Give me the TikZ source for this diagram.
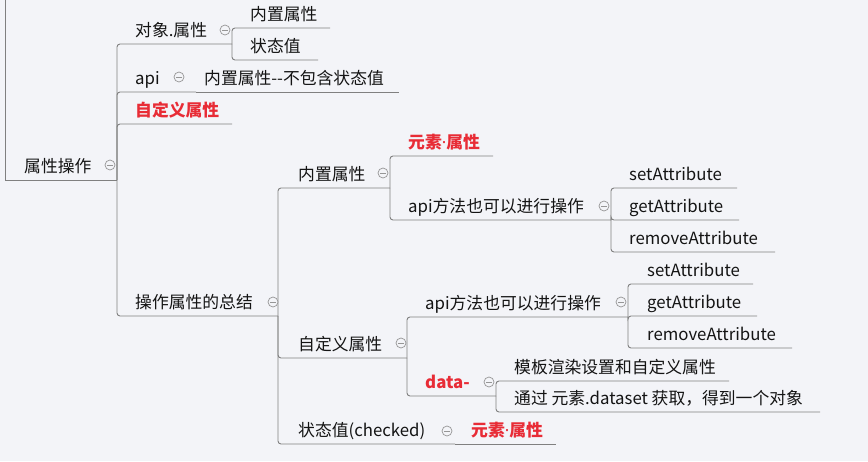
\documentclass[tikz,border=0pt]{standalone}
\usepackage{fontspec}
\setmainfont{Noto Sans CJK SC}
\newfontfamily\latinf{Noto Sans}
\definecolor{bgc}{RGB}{243,244,248}
\definecolor{linec}{RGB}{128,128,128}
\definecolor{redc}{RGB}{232,44,54}
\definecolor{txtc}{RGB}{20,20,20}
\definecolor{iconc}{RGB}{150,150,150}
\newcommand{\mdot}{{\latinf\bfseries ·}}
\tikzset{
  topic/.style={anchor=base west, inner sep=0pt, font=\fontsize{16.8}{19}\selectfont, text=txtc},
  redtopic/.style={topic, font=\fontsize{16.8}{19}\selectfont\bfseries, text=redc},
  conn/.style={draw=linec, line width=0.9pt, rounded corners=3pt},
  collapse/.style={circle, draw=iconc, line width=0.7pt, minimum size=10pt, inner sep=0pt, fill=bgc,
    path picture={\draw[iconc, line width=0.7pt] ([xshift=-2.6pt]path picture bounding box.center) -- ([xshift=2.6pt]path picture bounding box.center);}}
}
\begin{document}
\begin{tikzpicture}[x=1pt,y=-1pt]
\fill[bgc] (0,0) rectangle (868,461);
\useasboundingbox (0,0) rectangle (868,461);
% coordinates (underline right ends)
\coordinate (top) at (5,0);
\coordinate (root-r) at (117,180);
\coordinate (obj-r) at (232,44);
\coordinate (obj1-r) at (330,28);
\coordinate (obj2-r) at (318,60);
\coordinate (api-r) at (196,92);
\coordinate (api1-r) at (399,92);
\coordinate (cust-r) at (232,124);
\coordinate (sum-r) at (278,316);
\coordinate (bi-r) at (390,188);
\coordinate (bi1-r) at (493,156);
\coordinate (bi2-r) at (611,220);
\coordinate (bs-r) at (737,188);
\coordinate (bg-r) at (739,220);
\coordinate (br-r) at (775,252);
\coordinate (cu-r) at (407,358);
\coordinate (cu1-r) at (628,317);
\coordinate (cs-r) at (753,284);
\coordinate (cg-r) at (757,316);
\coordinate (cr-r) at (792,348);
\coordinate (dd-r) at (496,396);
\coordinate (dd1-r) at (729,381);
\coordinate (dd2-r) at (820,412);
\coordinate (st-r) at (455,444);
\coordinate (st1-r) at (556,444);
% connectors
\draw[draw=linec, line width=0.9pt] (top) |- (root-r);
\draw[conn] (root-r) |- (obj-r);
\draw[conn] (obj-r) |- (obj1-r);
\draw[conn] (obj-r) |- (obj2-r);
\draw[conn] (root-r) |- (api-r);
\draw[conn] (api-r) -- (api1-r);
\draw[conn] (root-r) |- (cust-r);
\draw[conn] (root-r) |- (sum-r);
\draw[conn] (sum-r) |- (bi-r);
\draw[conn] (bi-r) |- (bi1-r);
\draw[conn] (bi-r) |- (bi2-r);
\draw[conn] (bi2-r) |- (bs-r);
\draw[conn] (bi2-r) |- (bg-r);
\draw[conn] (bi2-r) |- (br-r);
\draw[conn] (sum-r) |- (cu-r);
\draw[conn] (cu-r) |- (cu1-r);
\draw[conn] (cu1-r) |- (cs-r);
\draw[conn] (cu1-r) |- (cg-r);
\draw[conn] (cu1-r) |- (cr-r);
\draw[conn] (cu-r) |- (dd-r);
\draw[conn] (dd-r) |- (dd1-r);
\draw[conn] (dd-r) |- (dd2-r);
\draw[conn] (sum-r) |- (st-r);
\draw[conn] (st-r) -- (st1-r);
% texts
\node[topic] (root) at (24,172) {属性操作};
\node[topic] (obj) at (135,36) {对象.属性};
\node[topic] (obj1) at (250,20) {内置属性};
\node[topic] (obj2) at (250,52) {状态值};
\node[topic] (api) at (135,84) {api};
\node[topic] (api1) at (204,84) {内置属性-{}-不包含状态值};
\node[redtopic] (cust) at (135,116) {自定义属性};
\node[topic] (sum) at (135,308) {操作属性的总结};
\node[topic] (bi) at (298,180) {内置属性};
\node[redtopic] (bi1) at (408,148) {元素\mdot 属性};
\node[topic] (bi2) at (408,212) {api方法也可以进行操作};
\node[topic] (bs) at (629,180) {setAttribute};
\node[topic] (bg) at (629,212) {getAttribute};
\node[topic] (br) at (629,244) {removeAttribute};
\node[topic] (cu) at (298,350) {自定义属性};
\node[topic] (cu1) at (425,309) {api方法也可以进行操作};
\node[topic] (cs) at (647,276) {setAttribute};
\node[topic] (cg) at (647,308) {getAttribute};
\node[topic] (cr) at (647,340) {removeAttribute};
\node[redtopic] (dd) at (425,388) {data-};
\node[topic] (dd1) at (514,373) {模板渲染设置和自定义属性};
\node[topic] (dd2) at (514,404) {通过 元素.dataset 获取，得到一个对象};
\node[topic] (st) at (298,436) {状态值(checked)};
\node[redtopic] (st1) at (471,436) {元素\mdot 属性};
% collapse icons
\node[collapse] (i1) at (110,165) {};
\node[collapse] (i2) at (225,30) {};
\node[collapse] (i3) at (179,77) {};
\node[collapse] (i4) at (273,302) {};
\node[collapse] (i5) at (383,173) {};
\node[collapse] (i6) at (604,206) {};
\node[collapse] (i7) at (401,343) {};
\node[collapse] (i8) at (621,302) {};
\node[collapse] (i9) at (489,382) {};
\node[collapse] (i10) at (447,431) {};
\end{tikzpicture}
\end{document}
